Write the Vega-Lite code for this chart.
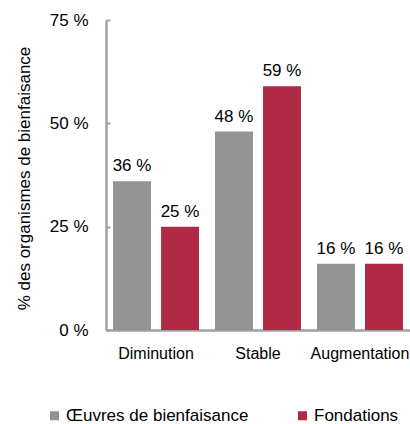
{
  "$schema": "https://vega.github.io/schema/vega-lite/v6.json",
  "width": 304,
  "height": 310,
  "autosize": {"type": "none"},
  "padding": {"left": 106, "top": 20, "right": 0, "bottom": 94},
  "background": "white",
  "config": {
    "font": "Liberation Sans",
    "view": {"stroke": null}
  },
  "data": {
    "values": [
      {"cat": "Diminution", "grp": "Œuvres de bienfaisance", "v": 36, "lab": "36 %"},
      {"cat": "Diminution", "grp": "Fondations", "v": 25, "lab": "25 %"},
      {"cat": "Stable", "grp": "Œuvres de bienfaisance", "v": 48, "lab": "48 %"},
      {"cat": "Stable", "grp": "Fondations", "v": 59, "lab": "59 %"},
      {"cat": "Augmentation", "grp": "Œuvres de bienfaisance", "v": 16, "lab": "16 %"},
      {"cat": "Augmentation", "grp": "Fondations", "v": 16, "lab": "16 %"}
    ]
  },
  "encoding": {
    "x": {
      "field": "cat", "type": "nominal", "sort": ["Diminution", "Stable", "Augmentation"],
      "scale": {"paddingInner": 0.157, "paddingOuter": 0.069},
      "axis": {"title": null, "labelAngle": 0, "ticks": false, "labelFontSize": 16, "labelColor": "#000000", "labelPadding": 15, "domainColor": "#a0a0a0", "domainWidth": 2.5}
    },
    "xOffset": {
      "field": "grp", "type": "nominal", "sort": ["Œuvres de bienfaisance", "Fondations"],
      "scale": {"paddingInner": 0.21, "paddingOuter": 0}
    },
    "y": {
      "field": "v", "type": "quantitative",
      "scale": {"domain": [0, 75]},
      "axis": {"values": [0, 25, 50, 75], "grid": false, "labelExpr": "datum.value + ' %'", "labelFontSize": 17, "labelColor": "#000000", "tickSize": -4, "tickColor": "#a0a0a0", "tickWidth": 2, "labelPadding": 22, "domainColor": "#a0a0a0", "domainWidth": 2.5, "title": "% des organismes de bienfaisance", "titleFontSize": 17, "titleFontWeight": "normal", "titleColor": "#000000", "titlePadding": 16, "titleY": 158}
    }
  },
  "layer": [
    {
      "mark": {"type": "bar"},
      "encoding": {
        "color": {
          "field": "grp", "type": "nominal", "sort": ["Œuvres de bienfaisance", "Fondations"],
          "scale": {"domain": ["Œuvres de bienfaisance", "Fondations"], "range": ["#939393", "#b02a43"]},
          "legend": {"title": null, "orient": "none", "legendX": -60, "legendY": 387, "direction": "horizontal", "symbolType": "square", "symbolSize": 81, "symbolStrokeWidth": 0, "labelFontSize": 17, "labelColor": "#000000", "labelLimit": 400, "columnPadding": 45, "labelOffset": 3, "symbolOpacity": 1}
        }
      }
    },
    {
      "mark": {"type": "text", "baseline": "alphabetic", "dy": -10, "fontSize": 17, "color": "#000000"},
      "encoding": {
        "text": {"field": "lab", "type": "nominal"},
        "detail": {"field": "grp"}
      }
    }
  ]
}
